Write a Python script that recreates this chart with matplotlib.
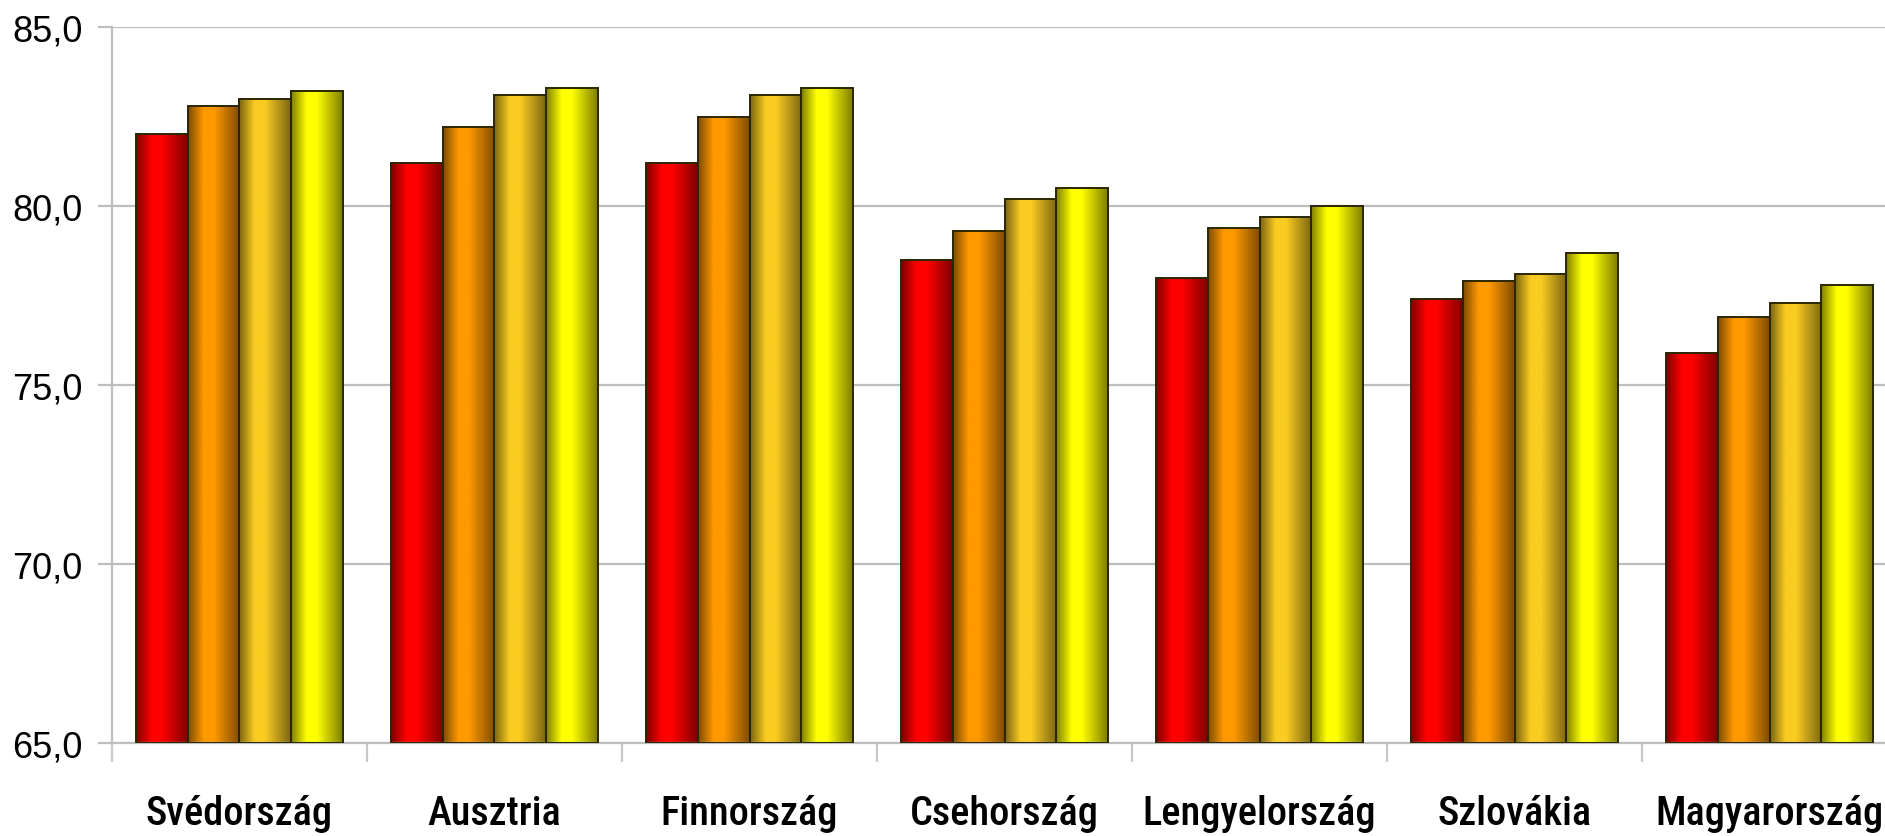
import numpy as np
import matplotlib
matplotlib.use("Agg")
import matplotlib.pyplot as plt
from matplotlib.colors import to_rgb

countries = ["Svédország", "Ausztria", "Finnország", "Csehország",
             "Lengyelország", "Szlovákia", "Magyarország"]
series_1 = [82.0, 81.2, 81.2, 78.5, 78.0, 77.4, 75.9]
series_2 = [82.8, 82.2, 82.5, 79.3, 79.4, 77.9, 76.9]
series_3 = [83.0, 83.1, 83.1, 80.2, 79.7, 78.1, 77.3]
series_4 = [83.2, 83.3, 83.3, 80.5, 80.0, 78.7, 77.8]
y_ticks = [65, 70, 75, 80, 85]

series = [series_1, series_2, series_3, series_4]
colors = ["#FF0000", "#FF9900", "#FACC22", "#FFFF00"]

fig = plt.figure(figsize=(18.85, 8.37), dpi=100)
ax = fig.add_axes([0.0594, 0.1111, 0.947, 0.8554])

ymin, ymax = 65, 85
ax.set_xlim(0, len(countries))
ax.set_ylim(ymin, ymax)

# cylinder-like shading across each bar: dark edges, bright centre-left
t = np.linspace(0, 1, 64)
shade = np.interp(t, [0, 0.3, 0.5, 1], [0.5, 1.0, 1.0, 0.5])

bw = 0.203
x = np.arange(len(countries)) + 0.5
for i, (vals, c) in enumerate(zip(series, colors)):
    pos = x + (i - 1.5) * bw
    bars = ax.bar(pos, np.array(vals) - ymin, width=bw, bottom=ymin,
                  color="none", edgecolor="#2a2600", linewidth=1.4, zorder=3)
    rgb = np.array(to_rgb(c))
    img = (shade[:, None] * rgb[None, :])[None, :, :]
    for b in bars:
        x0, y0 = b.get_x(), b.get_y()
        im = ax.imshow(img, extent=[x0, x0 + b.get_width(), y0, y0 + b.get_height()],
                       aspect="auto", interpolation="bilinear", zorder=2)
        im.set_clip_path(b)

ax.set_yticks(y_ticks)
ax.set_yticklabels([f"{v:.1f}".replace(".", ",") for v in y_ticks],
                   fontsize=26, family="Liberation Sans")
ax.yaxis.grid(True, color="#BEBEBE", linewidth=1.6, zorder=0)
ax.set_axisbelow(True)

ax.set_xticks(np.arange(len(countries) + 1))
ax.set_xticklabels([])
ax.set_xticks(x, minor=True)
ax.set_xticklabels(countries, minor=True, fontsize=29,
                   family=["Roboto Condensed", "DejaVu Sans"],
                   fontweight=500)
ax.tick_params(axis="x", which="major", length=14, width=1.6, color="#C8C8C8")
ax.tick_params(axis="x", which="minor", length=0, pad=37)
ax.tick_params(axis="y", length=10, width=1.6, color="#BEBEBE", pad=11)

for side in ["top", "right"]:
    ax.spines[side].set_visible(False)
for side in ["left", "bottom"]:
    ax.spines[side].set_color("#BEBEBE")
    ax.spines[side].set_linewidth(1.6)

fig.savefig("out.png", dpi=100)
